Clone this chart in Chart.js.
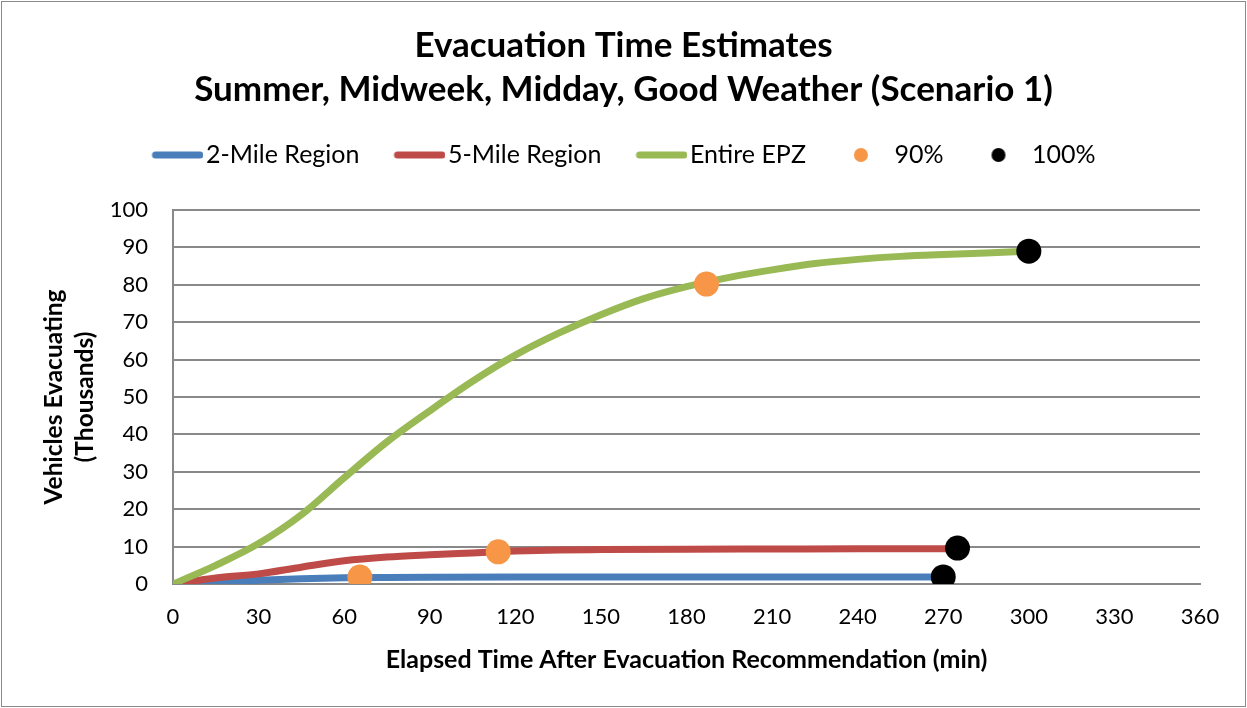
<!DOCTYPE html>
<html>
<head>
<meta charset="utf-8">
<script src="https://cdn.jsdelivr.net/npm/chart.js@4.4.1/dist/chart.umd.min.js"></script>
<style>
  html, body { margin: 0; padding: 0; background: #fff; }
  #wrap { width: 1247px; height: 708px; }
</style>
</head>
<body>
<div id="wrap"><canvas id="evacChart" width="1247" height="708"></canvas></div>
<script>
// values (minutes, thousands of vehicles)
const mile2Minutes = [0, 15, 30, 45, 60, 75, 90, 120, 180, 270];
const mile2Vehicles = [0, 0.4, 1.0, 1.4, 1.65, 1.75, 1.8, 1.85, 1.9, 1.9];

const mile5Minutes = [0, 15, 30, 45, 60, 75, 90, 105, 120, 135, 150, 180, 210, 240, 275];
const mile5Vehicles = [0, 1.6, 2.7, 4.5, 6.2, 7.2, 7.8, 8.3, 8.8, 9.1, 9.2, 9.3, 9.35, 9.4, 9.4];

const epzMinutes = [0, 15, 30, 45, 60, 75, 90, 105, 120, 135, 150, 165, 180, 195, 210, 225, 240, 255, 270, 285, 300];
const epzVehicles = [0, 5, 10.8, 18.5, 28.4, 38, 46.3, 54.2, 61.2, 67, 72, 76.3, 79.5, 82, 84, 85.7, 86.8, 87.6, 88.1, 88.5, 89];

const pct90Minutes = [65.5, 114, 187];
const pct90Vehicles = [1.85, 8.6, 80.2];
const pct100Minutes = [270, 275, 300];
const pct100Vehicles = [1.9, 9.6, 89];

const seriesNames = ['2-Mile Region', '5-Mile Region', 'Entire EPZ', '90%', '100%'];
const xTicks = [0, 30, 60, 90, 120, 150, 180, 210, 240, 270, 300, 330, 360];
const yTicks = [0, 10, 20, 30, 40, 50, 60, 70, 80, 90, 100];

const colors = ['#4a7ebb', '#be4b48', '#98b954', '#f79646', '#000000'];
const gridGray = '#898989';
const fontFamily = 'Lato, "Open Sans", sans-serif';

function pts(xs, ys) {
  return xs.map((x, i) => ({ x: x, y: ys[i] }));
}

function lineIcon(color) {
  const c = document.createElement('canvas');
  c.width = 62; c.height = 10;
  const g = c.getContext('2d');
  g.strokeStyle = color;
  g.lineWidth = 7;
  g.lineCap = 'round';
  g.beginPath();
  g.moveTo(14, 5);
  g.lineTo(58.5, 5);
  g.stroke();
  return c;
}

function dotIcon(color) {
  const c = document.createElement('canvas');
  c.width = 16; c.height = 16;
  const g = c.getContext('2d');
  g.fillStyle = color;
  g.beginPath();
  g.arc(8, 8, 7, 0, Math.PI * 2);
  g.fill();
  return c;
}

const legendIcons = [lineIcon(colors[0]), lineIcon(colors[1]), lineIcon(colors[2]), dotIcon(colors[3]), dotIcon(colors[4])];

function lineSet(i, xs, ys, order) {
  return {
    label: seriesNames[i],
    data: pts(xs, ys),
    showLine: true,
    borderColor: colors[i],
    backgroundColor: colors[i],
    borderWidth: 7,
    borderCapStyle: 'round',
    borderJoinStyle: 'round',
    cubicInterpolationMode: 'monotone',
    pointRadius: 0,
    pointHoverRadius: 0,
    order: order
  };
}

function markerSet(i, xs, ys) {
  return {
    label: seriesNames[i],
    data: pts(xs, ys),
    showLine: false,
    backgroundColor: colors[i],
    borderColor: colors[i],
    pointRadius: 12.5,
    pointBorderWidth: 0,
    order: 0
  };
}

// white background and thin outer frame
const frame = {
  id: 'frame',
  beforeDraw(chart) {
    const c = chart.ctx;
    c.save();
    c.fillStyle = '#fff';
    c.fillRect(0, 0, chart.width, chart.height);
    c.strokeStyle = '#8a8a8a';
    c.lineWidth = 1;
    c.strokeRect(1.5, 1.5, chart.width - 3, chart.height - 3);
    c.restore();
  }
};

const ctx = document.getElementById('evacChart').getContext('2d');
const evacChart = new Chart(ctx, {
  type: 'scatter',
  data: {
    datasets: [
      lineSet(0, mile2Minutes, mile2Vehicles, 3),
      lineSet(1, mile5Minutes, mile5Vehicles, 2),
      lineSet(2, epzMinutes, epzVehicles, 1),
      markerSet(3, pct90Minutes, pct90Vehicles),
      markerSet(4, pct100Minutes, pct100Vehicles)
    ]
  },
  options: {
    responsive: false,
    animation: false,
    devicePixelRatio: 1,
    layout: { padding: { left: 10, right: 10, top: 10, bottom: 10 } },
    plugins: {
      title: {
        display: true,
        text: ['Evacuation Time Estimates', 'Summer, Midweek, Midday, Good Weather (Scenario 1)'],
        color: '#000',
        font: { family: fontFamily, size: 35, weight: 'bold', lineHeight: '44px' },
        padding: { top: 14, bottom: -3.5 }
      },
      // empty spacer between legend and plot area
      subtitle: {
        display: true,
        text: ' ',
        weight: 500,
        font: { size: 10, lineHeight: '10px' },
        padding: { top: 0, bottom: 22.5 }
      },
      legend: {
        position: 'top',
        labels: {
          color: '#000',
          font: { family: fontFamily, size: 25 },
          padding: 34,
          usePointStyle: true,
          pointStyleWidth: 42,
          generateLabels(chart) {
            const items = Chart.defaults.plugins.legend.labels.generateLabels(chart);
            items.sort((a, b) => a.datasetIndex - b.datasetIndex);
            items.forEach(it => { it.pointStyle = legendIcons[it.datasetIndex]; });
            return items;
          }
        }
      },
      tooltip: { enabled: false }
    },
    scales: {
      x: {
        type: 'linear',
        min: 0,
        max: 360,
        afterBuildTicks(scale) { scale.ticks = xTicks.map(v => ({ value: v })); },
        afterFit(scale) { scale.height = 114; },
        grid: { drawOnChartArea: false, drawTicks: false },
        border: { display: true, color: gridGray, width: 2 },
        ticks: { color: '#000', font: { family: fontFamily, size: 22 }, padding: 20, maxRotation: 0 },
        title: {
          display: true,
          text: 'Elapsed Time After Evacuation Recommendation (min)',
          color: '#000',
          font: { family: fontFamily, size: 25, weight: 'bold' },
          padding: { top: 0, bottom: 23 }
        }
      },
      y: {
        type: 'linear',
        min: 0,
        max: 100,
        afterBuildTicks(scale) { scale.ticks = yTicks.map(v => ({ value: v })); },
        afterFit(scale) { scale.width = 163; },
        grid: { color: gridGray, lineWidth: 2, drawTicks: false },
        border: { display: true, color: gridGray, width: 2 },
        ticks: { color: '#000', font: { family: fontFamily, size: 22 }, padding: 25 },
        title: {
          display: true,
          text: ['Vehicles Evacuating', '(Thousands)'],
          color: '#000',
          font: { family: fontFamily, size: 24.5, weight: 'bold', lineHeight: '31px' },
          padding: { top: 29, bottom: 0 }
        }
      },
      // empty right margin so titles stay centred on the canvas
      yRight: {
        type: 'linear',
        position: 'right',
        min: 0,
        max: 100,
        afterFit(scale) { scale.width = 37; },
        grid: { display: false },
        border: { display: false },
        ticks: { display: false }
      }
    }
  },
  plugins: [frame]
});
</script>
</body>
</html>
